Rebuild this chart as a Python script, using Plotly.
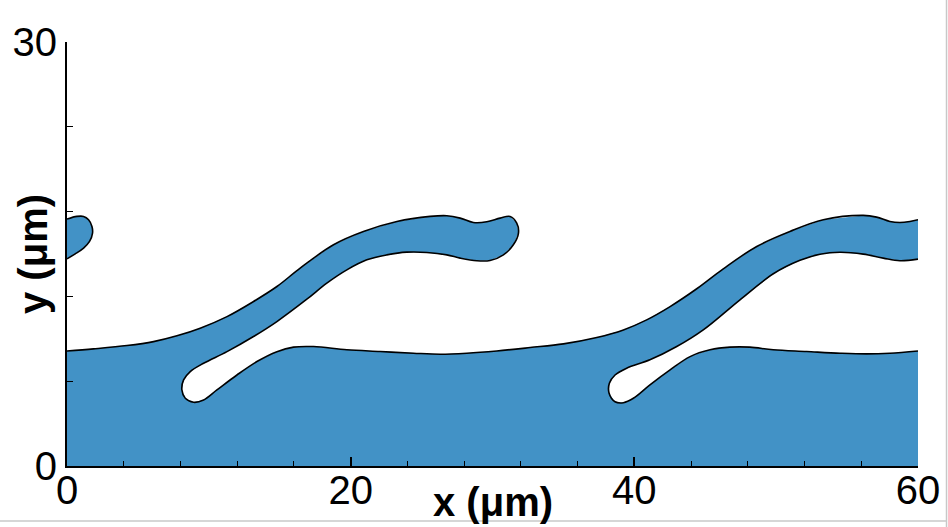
import plotly.graph_objects as go

# Interface 1: lower film top -> finger 1 (out and back) -> channel 1 tip -> film top -> finger 2 upper edge
iface1_x = [0.0, 1.87, 4.23, 6.10, 7.75, 9.39, 11.28, 13.15, 14.80, 16.44, 18.79, 20.90, 23.26,
            25.60, 26.78, 27.72, 28.65, 29.60, 30.54, 31.24, 31.71, 31.83, 31.47, 30.77, 29.83,
            28.89, 27.72, 26.78, 25.37, 23.96, 22.55, 21.14, 19.73, 18.32, 16.91, 14.80,
            13.15, 11.28, 9.63, 8.69, 8.22, 8.10, 8.34, 8.92, 9.63, 10.57, 11.98, 13.39, 14.80,
            15.97, 17.38, 19.73, 22.08, 24.43, 26.31, 28.19, 30.30, 32.65, 35.00, 37.35, 39.23,
            40.87, 42.52, 44.40, 46.27, 48.63, 50.97, 53.32, 56.14, 57.08, 58.02, 58.72, 59.43, 60.0]
iface1_y = [8.14, 8.29, 8.52, 8.80, 9.21, 9.75, 10.57, 11.64, 12.70, 14.00, 15.65, 16.59, 17.30,
            17.66, 17.71, 17.54, 17.23, 17.28, 17.54, 17.66, 17.19, 16.48, 15.65, 14.94, 14.54,
            14.52, 14.71, 14.94, 15.11, 15.13, 14.94, 14.59, 13.88, 12.94, 11.80, 10.22,
            9.16, 8.09, 7.27, 6.68, 6.09, 5.38, 4.79, 4.51, 4.67, 5.38, 6.44, 7.39, 8.09,
            8.41, 8.45, 8.22, 8.10, 7.98, 7.91, 7.98, 8.14, 8.38, 8.64, 9.09, 9.63,
            10.34, 11.28, 12.54, 13.95, 15.53, 16.59, 17.42, 17.73, 17.61, 17.30, 17.23, 17.30, 17.42]

# Interface 2: finger 2 lower edge -> channel 2 tip -> film top to right edge
iface2_x = [60.0, 58.72, 57.55, 56.14, 54.50, 53.09, 51.68, 49.80, 47.45, 44.86, 42.99, 41.10,
            39.46, 38.64, 38.24, 38.22, 38.64, 39.23, 39.93, 41.10, 42.52, 43.93, 45.34, 46.74,
            48.15, 49.80, 52.15, 54.50, 56.38, 58.02, 60.0]
iface2_y = [14.64, 14.52, 14.71, 14.99, 15.12, 14.98, 14.55, 13.60, 11.76, 9.63, 8.45, 7.51,
            6.92, 6.44, 5.86, 5.15, 4.55, 4.48, 4.79, 5.74, 6.80, 7.74, 8.22, 8.41,
            8.41, 8.22, 8.10, 7.98, 7.93, 7.98, 8.14]

# Periodic part of finger 2 tip re-entering at x = 0
blob_x = [0.0, 0.70, 1.17, 1.52, 1.76, 1.80, 1.59, 1.17, 0.58, 0.0]
blob_y = [17.47, 17.66, 17.66, 17.42, 16.95, 16.48, 15.89, 15.42, 15.01, 14.66]

x_ticks = [0, 20, 40, 60]
y_ticks = [0, 30]

BLUE = "#4292c6"
FONT = "Arial, Liberation Sans, sans-serif"

fig = go.Figure()

# blue liquid region
fx = [0.0] + iface1_x + iface2_x + [60.0, 0.0]
fy = [0.0] + iface1_y + iface2_y + [0.0, 0.0]
fig.add_trace(go.Scatter(x=fx, y=fy, mode="lines", fill="toself", fillcolor=BLUE,
                         line=dict(width=0, color="rgba(0,0,0,0)"), hoverinfo="skip",
                         showlegend=False))
fig.add_trace(go.Scatter(x=blob_x, y=blob_y, mode="lines", fill="toself", fillcolor=BLUE,
                         line=dict(width=0, color="rgba(0,0,0,0)"), hoverinfo="skip",
                         showlegend=False))

# interface outlines
for xs, ys in [(iface1_x, iface1_y), (iface2_x, iface2_y), (blob_x, blob_y)]:
    fig.add_trace(go.Scatter(x=xs, y=ys, mode="lines",
                             line=dict(color="black", width=1.6, shape="spline", smoothing=1.0),
                             hoverinfo="skip", showlegend=False))

fig.update_layout(
    width=948, height=527,
    margin=dict(l=67, r=30, t=42, b=61, pad=0),
    paper_bgcolor="white", plot_bgcolor="white",
    font=dict(family=FONT, color="black", size=40),
    showlegend=False,
)
fig.update_xaxes(
    range=[0, 60], tickvals=x_ticks, ticktext=[str(v) for v in x_ticks],
    showline=True, linecolor="black", linewidth=2, mirror=False,
    ticks="inside", ticklen=9, tickwidth=1.5, tickcolor="black",
    minor=dict(dtick=4, tick0=0, ticks="inside", ticklen=5, tickwidth=1, tickcolor="black"),
    showgrid=False, zeroline=False,
    tickfont=dict(size=40, family=FONT), ticklabelstandoff=-12,
    automargin=False,
)
fig.update_yaxes(
    range=[0, 30], tickvals=y_ticks, ticktext=[str(v) for v in y_ticks],
    showline=True, linecolor="black", linewidth=2, mirror=False,
    ticks="inside", ticklen=10, tickwidth=1.5, tickcolor="black",
    minor=dict(dtick=6, tick0=0, ticks="inside", ticklen=6, tickwidth=1, tickcolor="black"),
    showgrid=False, zeroline=False,
    tickfont=dict(size=40, family=FONT),
    automargin=False,
)

# axis titles
fig.add_annotation(text="<b>x (μm)</b>", xref="paper", yref="paper", x=0.5, y=0,
                   xanchor="center", yanchor="middle", yshift=-36, showarrow=False,
                   font=dict(size=40, family=FONT, color="black"))
fig.add_annotation(text="<b>y (μm)</b>", xref="paper", yref="paper", x=0, y=0.5,
                   xanchor="center", yanchor="middle", xshift=-34, textangle=-90,
                   showarrow=False, font=dict(size=40, family=FONT, color="black"))

# light grey frame edges of the original picture
fig.add_shape(type="line", xref="paper", yref="paper", x0=1.0335, x1=1.0335, y0=-0.2, y1=1.2,
              line=dict(color="#c8c8c8", width=1.5))
fig.add_shape(type="line", xref="paper", yref="paper", x0=-0.2, x1=1.0335, y0=-0.1299, y1=-0.1299,
              line=dict(color="#c8c8c8", width=1.5))

fig.write_html("out.html", config={"displayModeBar": False},
               post_script="document.body.style.margin='0';")
